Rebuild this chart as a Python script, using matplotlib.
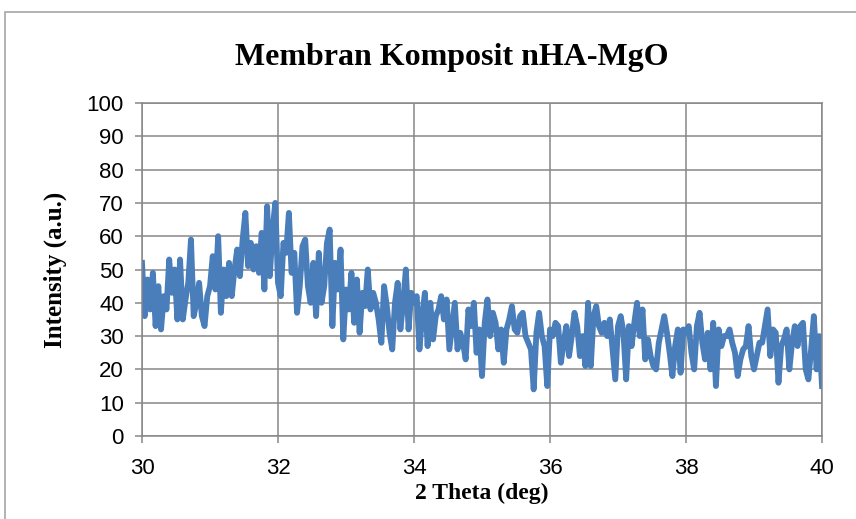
import numpy as np
import matplotlib
matplotlib.use("Agg")
import matplotlib.pyplot as plt
from matplotlib.patches import Rectangle

# 2 theta range, sampled every 0.04 deg
theta_start = 30.0
theta_stop = 40.0

# intensity (a.u.)
intensity = [
    52, 36, 47, 38, 49, 33, 45, 32, 42, 38, 53, 43, 50, 35, 53, 35, 41, 46, 59, 36, 40, 46, 36, 33, 42,
    45, 54, 44, 60, 37, 50, 42, 52, 42, 50, 56, 48, 59, 67, 51, 58, 50, 57, 49, 61, 44, 69, 48, 62, 70,
    46, 42, 58, 55, 67, 49, 55, 37, 45, 57, 59, 45, 40, 52, 36, 55, 40, 45, 58, 62, 33, 52, 44, 56, 29,
    44, 38, 49, 34, 47, 31, 43, 39, 50, 38, 43, 40, 35, 28, 45, 39, 31, 26, 40, 46, 32, 40, 50, 32, 43,
    40, 42, 26, 36, 43, 27, 40, 29, 36, 38, 42, 35, 41, 26, 33, 40, 26, 31, 28, 23, 38, 33, 40, 25, 32,
    18, 34, 41, 30, 37, 34, 26, 32, 22, 32, 35, 39, 32, 31, 36, 37, 30, 28, 26, 14, 31, 37, 30, 27, 15,
    32, 30, 34, 33, 22, 28, 33, 24, 30, 37, 33, 24, 30, 21, 40, 21, 36, 39, 33, 31, 34, 30, 35, 26, 17,
    33, 36, 31, 17, 33, 27, 34, 40, 30, 38, 23, 29, 24, 21, 20, 28, 32, 36, 31, 25, 18, 27, 32, 19, 32,
    31, 33, 25, 20, 33, 37, 28, 23, 31, 20, 34, 15, 32, 27, 30, 30, 32, 28, 25, 18, 23, 26, 27, 33, 24,
    20, 24, 28, 28, 33, 38, 24, 32, 31, 16, 27, 29, 32, 20, 28, 33, 27, 33, 34, 20, 17, 26, 36, 20, 30, 15,
]
two_theta = np.linspace(theta_start, theta_stop, len(intensity))

x_ticks = [30, 32, 34, 36, 38, 40]
y_ticks = list(range(0, 101, 10))

title = "Membran Komposit nHA-MgO"
x_label = "2 Theta (deg)"
y_label = "Intensity (a.u.)"

grid_col = "#878787"
line_col = "#4a7ebb"

fig = plt.figure(figsize=(8.56, 5.19), dpi=100)
ax = fig.add_axes([142/856, 1 - 436/519, 680/856, 333/519])

# chart frame like the spreadsheet border
fig.patches.append(Rectangle((5/856, -0.1), 1.2, 1.1 - 12/519, transform=fig.transFigure,
                             fill=False, edgecolor="#a6a6a6", linewidth=1.2))

ax.plot(two_theta, intensity, color=line_col, linewidth=4.2, solid_joinstyle="round")

ax.set_xlim(theta_start, theta_stop)
ax.set_ylim(0, 100)
ax.set_xticks(x_ticks)
ax.set_yticks(y_ticks)
ax.grid(True, color=grid_col, linewidth=1.1)
ax.set_axisbelow(True)
for s in ax.spines.values():
    s.set_color(grid_col)
    s.set_linewidth(1.1)

ax.tick_params(axis="both", colors=grid_col, labelcolor="black", length=5, width=1.1,
               labelsize=16)
ax.tick_params(axis="x", pad=11)
ax.tick_params(axis="y", pad=8)
for lab in ax.get_xticklabels() + ax.get_yticklabels():
    lab.set_fontfamily("Liberation Sans")

serif = "Liberation Serif"
fig.text(452/856, 1 - 58/519, title, ha="center", va="center", fontsize=23,
         fontweight="bold", family=serif)
fig.text(482/856, 1 - 493/519, x_label, ha="center", va="center", fontsize=17,
         fontweight="bold", family=serif)
fig.text(55/856, 1 - 270/519, y_label, ha="center", va="center", rotation=90,
         fontsize=18, fontweight="bold", family=serif)

fig.savefig("out.png", dpi=100)
